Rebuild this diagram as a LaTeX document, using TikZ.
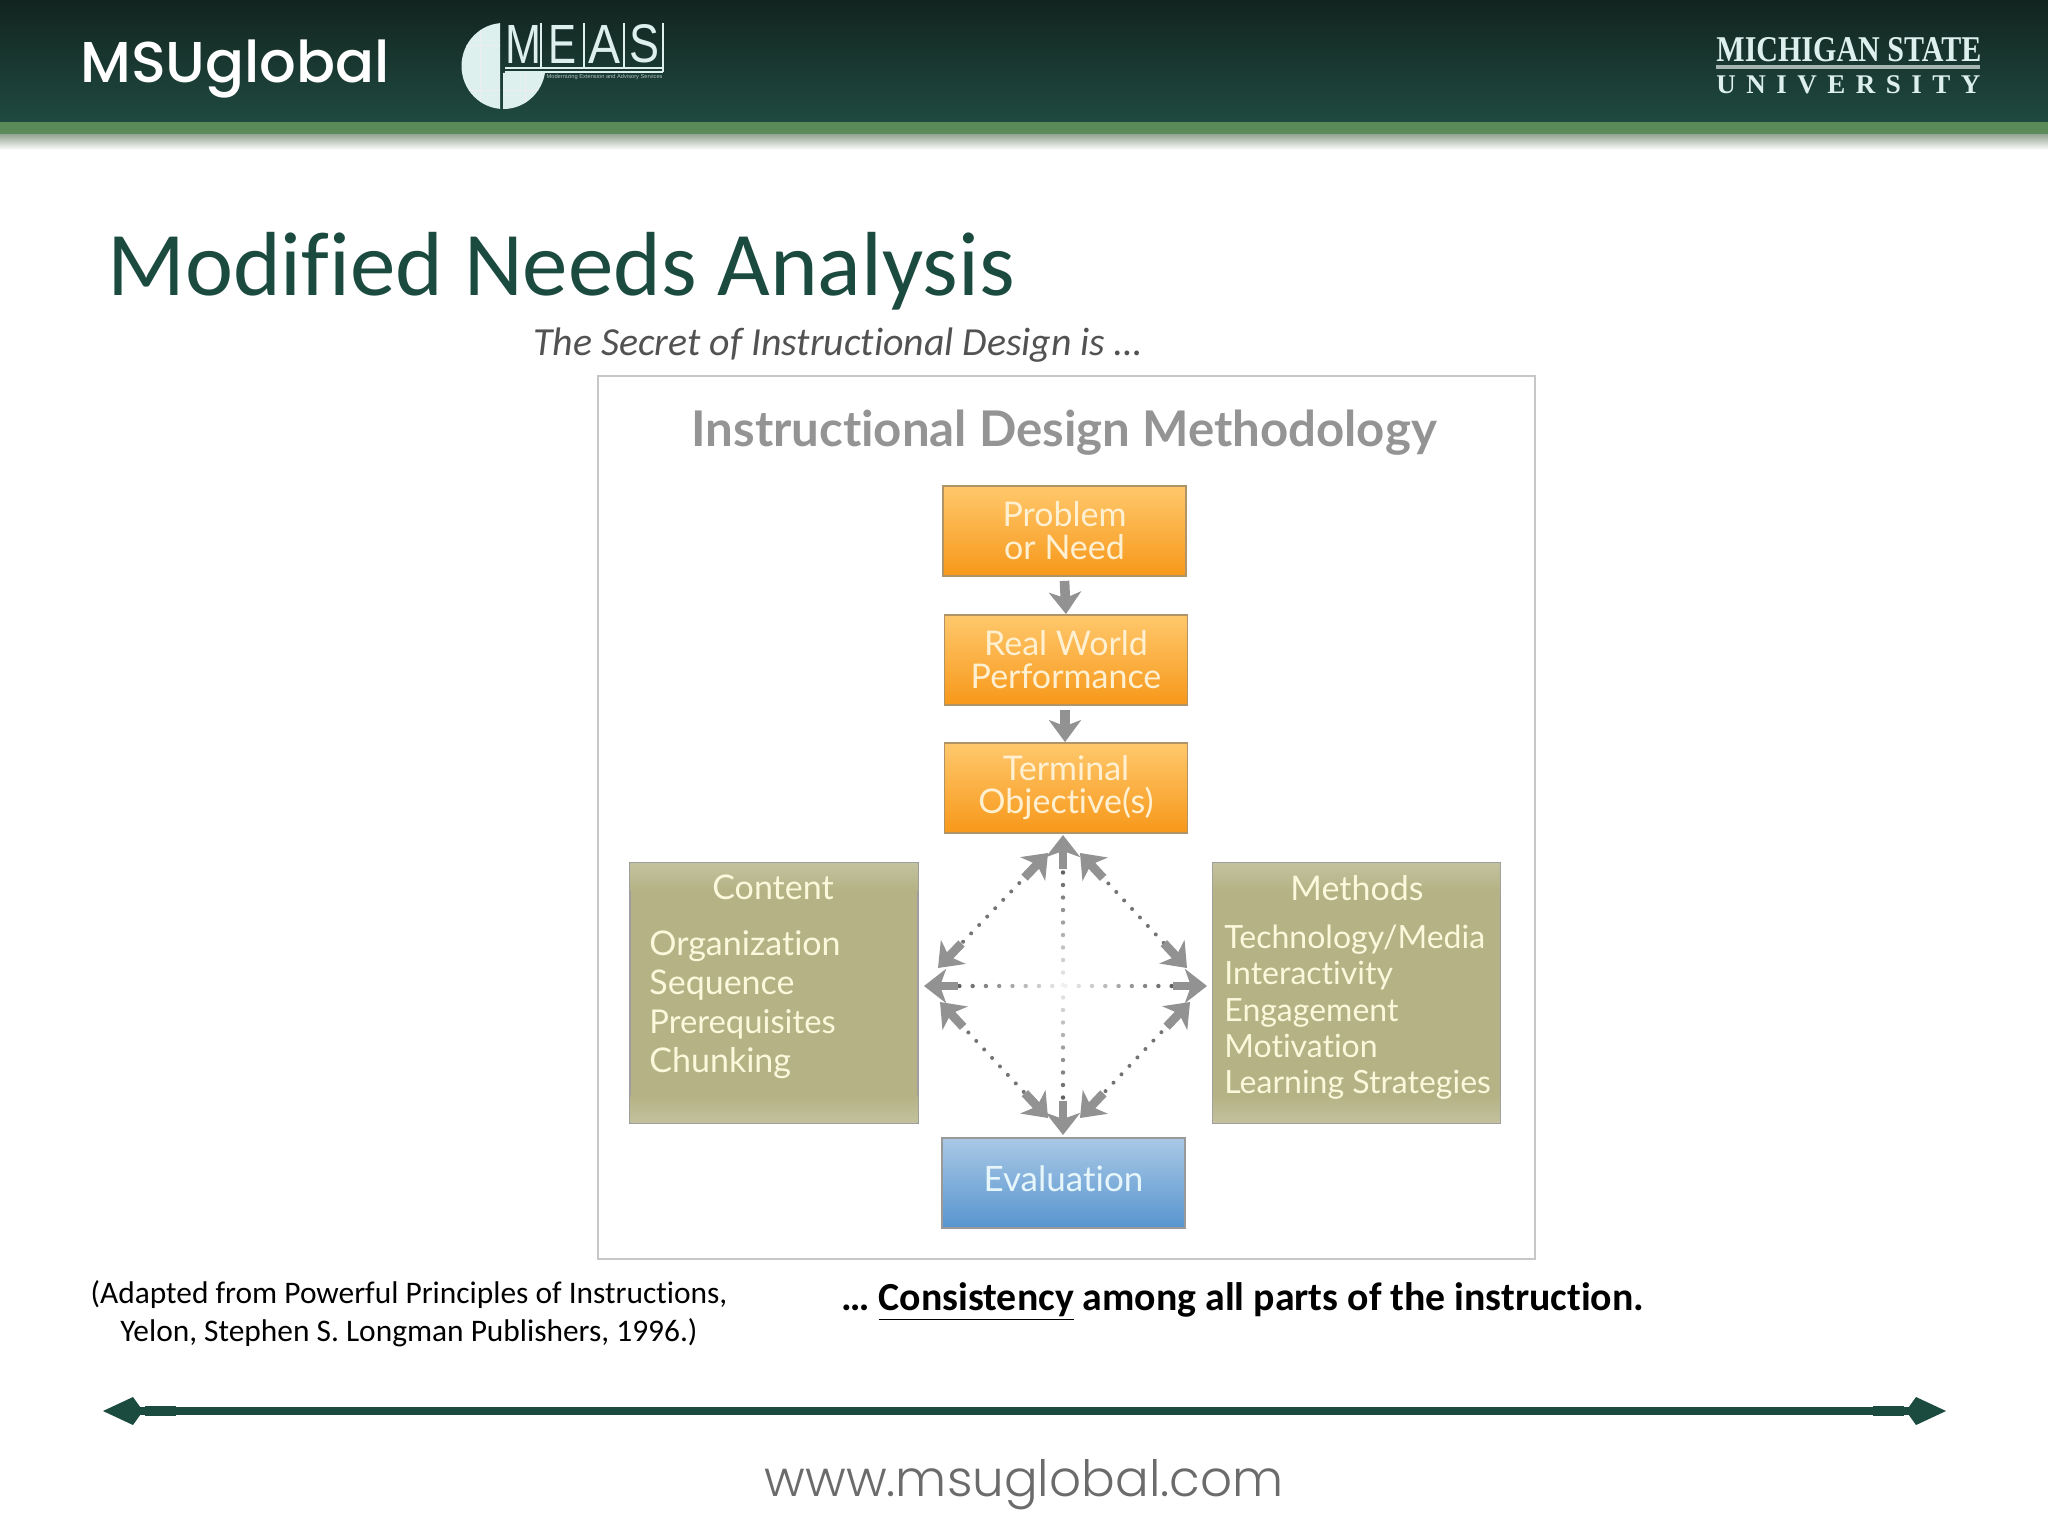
\documentclass[tikz,border=0pt]{standalone}
\usepackage{graphicx}
\usepackage{fontspec}
\setmainfont{Carlito}[Ligatures=NoCommon]
\newfontfamily\lat{Lato}[Ligatures=NoCommon]
\newfontfamily\pop{Poppins}[UprightFont=* Medium]
\newfontfamily\popl{Poppins}[UprightFont=* Light]
\newfontfamily\libs{Liberation Sans}
\newfontfamily\libr{Liberation Serif}
\usetikzlibrary{arrows.meta,calc,positioning}
\definecolor{hdtop}{HTML}{12241F}
\definecolor{hdbot}{HTML}{1F4A40}
\definecolor{band}{HTML}{5A8A58}
\definecolor{titlec}{HTML}{1B4A3F}
\definecolor{logoc}{HTML}{DDF0EE}
\definecolor{arrowg}{HTML}{929292}
\definecolor{boxedge}{HTML}{B09468}
\definecolor{paleor}{HTML}{FFF0D2}
\definecolor{paleol}{HTML}{FBF8DC}
\definecolor{palebl}{HTML}{E6F6FA}
\definecolor{ortop}{HTML}{FFC86C}
\definecolor{ormid}{HTML}{FDB445}
\definecolor{orbot}{HTML}{F7981A}
\definecolor{olivefill}{HTML}{B5B285}
\definecolor{olivelight}{HTML}{C3C29E}
\definecolor{bltop}{HTML}{A9C8E6}
\definecolor{blbot}{HTML}{5795CF}
\tikzset{
  panel/.style={draw=black!22,line width=.6pt,fill=white},
  orangebox/.style={draw=boxedge,line width=.9pt,minimum width=121.5pt,minimum height=45pt,inner sep=0pt,
    top color=ortop,middle color=ormid,bottom color=orbot,
    text=paleor,align=center,font=\lat\fontsize{17}{16.5}\selectfont},
  olivebox/.style={draw=black!38,line width=.7pt,minimum width=144pt,minimum height=130pt,inner sep=0pt,fill=olivefill},
  bluebox/.style={draw=black!40,line width=.9pt,minimum width=121.5pt,minimum height=45pt,inner sep=0pt,
    top color=bltop,bottom color=blbot,text=palebl,font=\lat\fontsize{17.5}{17.5}\selectfont},
  olivetitle/.style={inner sep=0pt,text=paleol,font=\lat\fontsize{17}{17}\selectfont},
  olivetext/.style={inner sep=0pt,anchor=base west,text=paleol,font=\lat\fontsize{#1}{#1}\selectfont},
  stepflow/.style={draw=arrowg,line width=4.8pt,-{Stealth[length=11pt,width=16pt,inset=3pt]}},
  crossarrow/.style={draw=arrowg,line width=4.4pt,-{Stealth[length=11pt,width=17pt,inset=3pt]}},
  dotline/.style={draw=black!55,line width=2pt,line cap=round,dash pattern=on 0pt off 5.8pt},
  endbar/.style={draw=titlec,line width=3.6pt},
  endthick/.style={draw=titlec,line width=5pt},
  endtip/.style={-{Kite[length=20pt,width=14pt,inset=5pt]}},
}
\newcommand{\bothways}[2]{%
  \draw[dotline] ($(#1)!15pt!(#2)$) -- ($(#2)!15pt!(#1)$);
  \draw[crossarrow] ($(#1)!17pt!(#2)$) -- (#1);
  \draw[crossarrow] ($(#2)!17pt!(#1)$) -- (#2);}
\newcommand{\fadeaxis}[3]{% a, b, half number of gaps
  \pgfmathtruncatemacro{\nn}{2*#3}
  \foreach \i in {0,...,\nn}{
    \pgfmathsetmacro{\tt}{.125+.75*\i/\nn}
    \pgfmathtruncatemacro{\pp}{6+56*abs(\i-#3)/#3}
    \fill[black!\pp] ($(#1)!\tt!(#2)$) circle[radius=1.1pt];
  }
  \draw[crossarrow] ($(#1)!17pt!(#2)$) -- (#1);
  \draw[crossarrow] ($(#2)!17pt!(#1)$) -- (#2);}
\begin{document}
\begin{tikzpicture}[x=.5pt,y=-.5pt]
\useasboundingbox (0,0) rectangle (2048,1536);
% header
\fill[white] (0,0) rectangle (2048,1536);
\shade[top color=hdtop,bottom color=hdbot] (0,0) rectangle (2048,122);
\fill[band] (0,122) rectangle (2048,134);
\shade[top color=band!65!black!55!white,bottom color=white] (0,134) rectangle (2048,150);
\node[anchor=base west,inner sep=0pt,text=white,font=\pop\fontsize{28.8}{28.8}\selectfont] (brand) at (80,83) {MSUglobal};
% MEAS logo
\begin{scope}
  \clip (450,15) rectangle (500,115) (503,73) rectangle (552,115);
  \clip (503.5,66) ellipse [x radius=42,y radius=43];
  \fill[logoc] (450,15) rectangle (552,115);
  \draw[black!7,line width=.4pt] (462,45)--(545,45) (462,90)--(545,90) (480,20)--(480,110) (525,20)--(525,110);
\end{scope}
\draw[logoc,line width=.7pt] (541,23)--(541,68) (584,23)--(584,68) (624,23)--(624,68) (663,23)--(663,72);
\draw[logoc,line width=1pt] (505,68)--(663,68) (505,72)--(663,72);
\node[inner sep=0pt,text=logoc] (mm) at (523,44) {\resizebox{18pt}{19pt}{\libs M}};
\node[inner sep=0pt,text=logoc] (me) at (562,44) {\resizebox{14pt}{19pt}{\libs E}};
\node[inner sep=0pt,text=logoc] (ma) at (604,44) {\resizebox{16pt}{19pt}{\libs A}};
\node[inner sep=0pt,text=logoc] (ms) at (644,44) {\resizebox{15pt}{19pt}{\libs S}};
\node[inner sep=0pt,text=logoc!80!black,anchor=east] (msub) at (663,77) {\resizebox{58pt}{!}{\libs Modernizing Extension and Advisory Services}};
% MSU wordmark
\node[inner sep=0pt,anchor=south west,text=logoc] (msu1) at (1716,62) {\resizebox{132.5pt}{12pt}{\libr\bfseries MICHIGAN STATE}};
\draw[logoc!75!black,line width=1.6pt] (1716,67)--(1980,67);
\node[inner sep=0pt,anchor=base west,text=logoc,font=\libr\bfseries\fontsize{13.5}{13.5}\selectfont] (msu2) at (1716,94) {\makebox[132pt][s]{U\hfill N\hfill I\hfill V\hfill E\hfill R\hfill S\hfill I\hfill T\hfill Y}};
% titles
\node[anchor=base west,inner sep=0pt,text=titlec,font=\fontsize{45.5}{45.5}\selectfont] (title) at (107,295) {Modified Needs Analysis};
\node[anchor=base west,inner sep=0pt,text=black!68,font=\fontsize{19.9}{19.9}\selectfont\itshape] (sub) at (533,355) {The Secret of Instructional Design is \dots};
% panel
\node[panel,minimum width=468.5pt,minimum height=441.5pt,inner sep=0pt] (pan) at (1066.5,817.5) {};
\node[inner sep=0pt,anchor=base,text=black!42,font=\lat\bfseries\fontsize{24.6}{24.6}\selectfont] (ptitle) at (1064,446) {Instructional Design Methodology};
% boxes
\node[orangebox] (prob) at (1064.5,531) {Problem\\or Need};
\node[orangebox] (real) at (1066,660) {Real World\\Performance};
\node[orangebox] (term) at (1066,788) {Terminal\\Objective(s)};
\node[olivebox] (cont) at (774,993) {};
\node[olivebox] (meth) at (1356.5,993) {};
\foreach \b in {cont,meth}{
  \shade[top color=olivelight,bottom color=olivefill] ([shift={(.5pt,-.5pt)}]\b.north west) rectangle ([shift={(-.5pt,-14pt)}]\b.north east);
  \shade[top color=olivefill,bottom color=olivelight] ([shift={(.5pt,14pt)}]\b.south west) rectangle ([shift={(-.5pt,.5pt)}]\b.south east);
}
\node[bluebox] (eval) at (1063.5,1183) {\raisebox{4pt}{Evaluation}};
\draw[stepflow] (prob.south) ++(0,4) -- (real.north);
\draw[stepflow] (real.south) ++(-1,4) -- ([xshift=-.5pt]term.north);
% Content text
\node[olivetitle] (ct) at (773,887) {Content};
\node[olivetext=17] (c1) at (649,955) {Organization};
\node[olivetext=17] (c2) at (649,994) {Sequence};
\node[olivetext=16.4] (c3) at (649,1033) {Prerequisites};
\node[olivetext=17] (c4) at (649,1072) {Chunking};
% Methods text
\node[olivetitle] (mt) at (1357,888) {Methods};
\node[olivetext=16] (m1) at (1224,948) {Technology/Media};
\node[olivetext=16] (m2) at (1224,984) {Interactivity};
\node[olivetext=16] (m3) at (1224,1021) {Engagement};
\node[olivetext=16] (m4) at (1224,1057) {Motivation};
\node[olivetext=16] (m5) at (1224,1093) {Learning Strategies};
% cross arrows
\coordinate (vt) at (1063,835);
\coordinate (vb) at (1063,1135);
\coordinate (hl) at (924,986);
\coordinate (hr) at (1207,986);
\coordinate (ult) at (1048,853);
\coordinate (ulb) at (938,968);
\coordinate (urt) at (1080,853);
\coordinate (urb) at (1187,968);
\coordinate (llt) at (940,1002);
\coordinate (llb) at (1048,1118);
\coordinate (lrt) at (1190,1002);
\coordinate (lrb) at (1080,1118);
\bothways{ult}{ulb}
\bothways{urt}{urb}
\bothways{llt}{llb}
\bothways{lrt}{lrb}
\fadeaxis{vt}{vb}{9}
\fadeaxis{hl}{hr}{8}
% captions
\node[inner sep=0pt,align=center,text=black,font=\fontsize{15.7}{19}\selectfont] (adapt) at (409,1314) {(Adapted from Powerful Principles of Instructions,\\Yelon, Stephen S. Longman Publishers, 1996.)};
\node[anchor=base west,inner sep=0pt,text=black,font=\bfseries\fontsize{19.9}{19.9}\selectfont] (cons) at (841,1310) {\dots\ \underline{Consistency} among all parts of the instruction.};
% footer rule
\coordinate (fl) at (103,1411);
\coordinate (fr) at (1946,1411);
\draw[endbar,endtip] (200,1411) -- (fl);
\draw[endbar,endtip] (1850,1411) -- (fr);
\draw[endbar] (190,1411) -- (1860,1411);
\draw[endthick] (145,1411) -- (176,1411);
\draw[endthick] (1873,1411) -- (1904,1411);
\node[inner sep=0pt,anchor=base,text=black!58,font=\popl\fontsize{25}{25}\selectfont] (web) at (1024,1496) {www.msuglobal.com};
\end{tikzpicture}
\end{document}
